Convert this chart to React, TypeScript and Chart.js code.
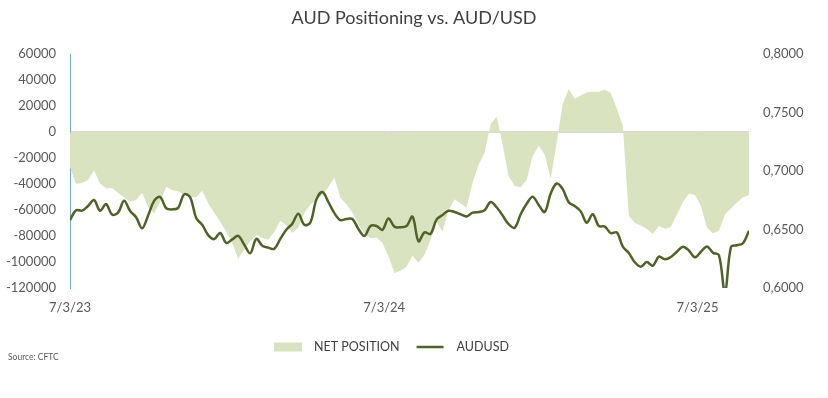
import { useEffect, useRef } from 'react';
import { Chart, registerables } from 'chart.js';

Chart.register(...registerables);

const chartTitle = 'AUD Positioning vs. AUD/USD';
const sourceText = 'Source: CFTC';
const seriesNames = ['NET POSITION', 'AUDUSD'];
const startDate = '2023-03-07';
const xTickDates = ['2023-03-07', '2024-03-07', '2025-03-07'];
const xTickLabels = ['7/3/23', '7/3/24', '7/3/25'];

// weekly CFTC net positioning (contracts)
const netPosition = [
  -27000, -40000, -39200, -37000, -29700, -39700, -43200, -43000, -46900, -50300,
  -53600, -52300, -46700, -57600, -62500, -53800, -42200, -44600, -45700, -48000,
  -49800, -50200, -45200, -55000, -62000, -69000, -76700, -85700, -97500, -90500,
  -84000, -79300, -81600, -82800, -76700, -68200, -71700, -77600, -73600, -62300,
  -56000, -52300, -48700, -42300, -35000, -50500, -55500, -62000, -71000, -78000,
  -81700, -81200, -85400, -95500, -108400, -106800, -103600, -95200, -100600, -94500,
  -83000, -69000, -77000, -60000, -51800, -55000, -58000, -39000, -25200, -16000,
  6000, 12000, -10000, -34000, -41600, -42500, -37000, -18600, -10500, -17500,
  -36000, -8000, 21500, 33000, 25500, 28000, 30300, 31000, 31000, 32500,
  30000, 18000, 5000, -64500, -70000, -72000, -74700, -78500, -72300, -74500,
  -73000, -63500, -54000, -47500, -48500, -57000, -73500, -78000, -76000, -63500,
  -58800, -54300, -50200, -48500,
];

// weekly AUD/USD
const audusd = [
  0.6581, 0.6665, 0.6661, 0.6701, 0.6752, 0.6660, 0.6718, 0.6628, 0.6644, 0.6745,
  0.6658, 0.6605, 0.6510, 0.6620, 0.6745, 0.6778, 0.6683, 0.6672, 0.6685, 0.6800,
  0.6775, 0.6598, 0.6540, 0.6452, 0.6418, 0.6470, 0.6385, 0.6415, 0.6446, 0.6370,
  0.6297, 0.6420, 0.6362, 0.6345, 0.6335, 0.6420, 0.6498, 0.6550, 0.6635, 0.6540,
  0.6560, 0.6755, 0.6820, 0.6735, 0.6640, 0.6580, 0.6590, 0.6590, 0.6505, 0.6444,
  0.6530, 0.6530, 0.6497, 0.6595, 0.6524, 0.6519, 0.6530, 0.6610, 0.6400, 0.6475,
  0.6462, 0.6585, 0.6624, 0.6660, 0.6650, 0.6630, 0.6612, 0.6644, 0.6650, 0.6665,
  0.6735, 0.6690, 0.6620, 0.6545, 0.6515, 0.6630, 0.6720, 0.6780, 0.6710, 0.6650,
  0.6808, 0.6893, 0.6845, 0.6733, 0.6700, 0.6655, 0.6558, 0.6630, 0.6530, 0.6525,
  0.6468, 0.6475, 0.6353, 0.6300, 0.6220, 0.6182, 0.6222, 0.6190, 0.6268, 0.6245,
  0.6265, 0.6310, 0.6353, 0.6320, 0.6262, 0.6310, 0.6355, 0.6302, 0.6280, 0.5960,
  0.6350, 0.6365, 0.6382, 0.6490,
];

const AREA_COLOR = '#dae3bf';
const LINE_COLOR = '#4f6228';
const TEXT_COLOR = '#595959';
const FONT = 'Lato, "Open Sans", sans-serif';

const DAY_MS = 86400000;
const dayOf = (d: string) => Math.round((Date.parse(d) - Date.parse(startDate)) / DAY_MS);
const weekDays = netPosition.map((_, i) => i * 7);

const extrasPlugin = {
  id: 'extras',
  afterDraw(chart: any) {
    const ctx = chart.ctx as CanvasRenderingContext2D;
    ctx.save();
    // title
    ctx.fillStyle = '#404040';
    ctx.font = `18px ${FONT}`;
    ctx.textAlign = 'center';
    ctx.textBaseline = 'middle';
    ctx.fillText(chartTitle, 414, 18);

    // x-axis tick marks on the zero line
    const xs = chart.scales.x;
    const ys = chart.scales.y;
    const zy = ys.getPixelForValue(0);
    ctx.strokeStyle = '#d9d9d9';
    ctx.lineWidth = 1;
    xTickDates.forEach((d) => {
      const px = Math.round(xs.getPixelForValue(dayOf(d))) + 0.5;
      ctx.beginPath();
      ctx.moveTo(px, zy);
      ctx.lineTo(px, zy + 4);
      ctx.stroke();
    });

    // legend
    const ly = 347;
    let lx = 274;
    ctx.font = `12.5px ${FONT}`;
    ctx.textAlign = 'left';
    ctx.fillStyle = AREA_COLOR;
    ctx.fillRect(lx, ly - 4.5, 28, 9);
    lx += 28 + 12;
    ctx.fillStyle = '#404040';
    ctx.fillText(seriesNames[0], lx, ly);
    lx += ctx.measureText(seriesNames[0]).width + 17;
    ctx.strokeStyle = LINE_COLOR;
    ctx.lineWidth = 2.5;
    ctx.beginPath();
    ctx.moveTo(lx, ly);
    ctx.lineTo(lx + 27, ly);
    ctx.stroke();
    lx += 27 + 13;
    ctx.fillText(seriesNames[1], lx, ly);

    // source
    ctx.font = `8.5px ${FONT}`;
    ctx.fillStyle = TEXT_COLOR;
    ctx.fillText(sourceText, 8, 357);
    ctx.restore();
  },
};

export default function App() {
  const canvasRef = useRef<HTMLCanvasElement | null>(null);

  useEffect(() => {
    if (!canvasRef.current) return;
    const tickFont = { family: FONT, size: 13 };
    const chart = new Chart(canvasRef.current, {
      type: 'line',
      data: {
        datasets: [
          {
            label: seriesNames[1],
            data: audusd.map((v, i) => ({ x: weekDays[i], y: v })),
            yAxisID: 'y2',
            borderColor: LINE_COLOR,
            borderWidth: 2.5,
            pointRadius: 0,
            tension: 0.35,
            fill: false,
            order: 1,
          },
          {
            label: seriesNames[0],
            data: netPosition.map((v, i) => ({ x: weekDays[i], y: v })),
            yAxisID: 'y',
            backgroundColor: AREA_COLOR,
            borderColor: AREA_COLOR,
            borderWidth: 0,
            pointRadius: 0,
            tension: 0,
            fill: 'origin',
            order: 2,
          },
        ],
      },
      options: {
        responsive: false,
        animation: false,
        events: [],
        layout: { padding: { top: 54, bottom: 80, left: 0, right: 0 } },
        plugins: {
          legend: { display: false },
          title: { display: false },
          tooltip: { enabled: false },
        },
        scales: {
          x: {
            type: 'linear',
            min: 0,
            max: weekDays[weekDays.length - 1],
            grid: { display: false, drawTicks: false },
            border: { display: false },
            afterBuildTicks: (s: any) => {
              s.ticks = xTickDates.map((d) => ({ value: dayOf(d) }));
            },
            afterFit: (s: any) => {
              s.height = 30;
            },
            ticks: {
              autoSkip: false,
              maxRotation: 0,
              padding: 12,
              color: TEXT_COLOR,
              font: tickFont,
              callback: (_v: any, i: number) => xTickLabels[i],
            },
          },
          y: {
            position: 'left',
            min: -120000,
            max: 60000,
            z: 1,
            grid: {
              drawTicks: false,
              lineWidth: 2,
              color: (c: any) => (c.tick && c.tick.value === 0 ? '#d9d9d9' : 'rgba(0,0,0,0)'),
            },
            border: { display: true, color: '#6fa8dc', width: 1 },
            afterFit: (s: any) => {
              s.width = 70;
            },
            ticks: {
              stepSize: 20000,
              padding: 14,
              color: TEXT_COLOR,
              font: tickFont,
              callback: (v: any) => String(Math.round(Number(v))),
            },
          },
          y2: {
            position: 'right',
            min: 0.6,
            max: 0.8,
            grid: { display: false, drawTicks: false },
            border: { display: false },
            afterFit: (s: any) => {
              s.width = 79;
            },
            ticks: {
              stepSize: 0.05,
              padding: 14,
              color: TEXT_COLOR,
              font: tickFont,
              callback: (v: any) => Number(v).toFixed(4).replace('.', ','),
            },
          },
        },
      },
      plugins: [extrasPlugin],
    });
    return () => chart.destroy();
  }, []);

  return (
    <div style={{ position: 'fixed', left: 0, top: 0, width: 828, height: 398, background: '#fff' }}>
      <canvas ref={canvasRef} width={828} height={398} style={{ display: 'block' }} />
    </div>
  );
}
